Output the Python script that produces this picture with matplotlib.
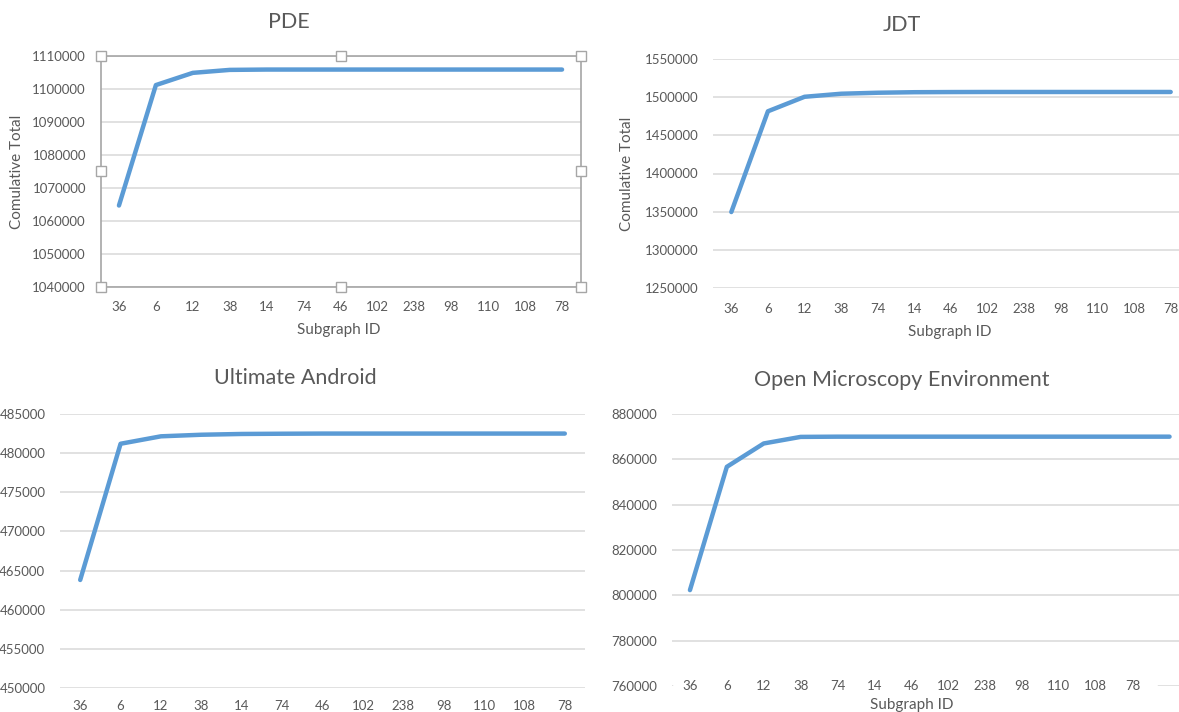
import matplotlib
matplotlib.use("Agg")
import matplotlib.pyplot as plt
import numpy as np

plt.rcParams['font.family'] = ['Lato', 'DejaVu Sans']

# data
pde_ids = ['36', '6', '12', '38', '14', '74', '46', '102', '238', '98', '110', '108', '78']
pde_vals = [1064600, 1101100, 1104800, 1105700, 1105800, 1105800, 1105800,
            1105800, 1105800, 1105800, 1105800, 1105800, 1105800]

jdt_ids = ['36', '6', '12', '38', '74', '14', '46', '102', '238', '98', '110', '108', '78']
jdt_vals = [1349500, 1481500, 1500500, 1504500, 1505800, 1506500, 1506700,
            1506800, 1506800, 1506800, 1506800, 1506800, 1506800]

ua_ids = ['36', '6', '12', '38', '14', '74', '46', '102', '238', '98', '110', '108', '78']
ua_vals = [463800, 481200, 482150, 482350, 482450, 482480, 482500,
           482500, 482500, 482500, 482500, 482500, 482500]

ome_ids = ['36', '6', '12', '38', '74', '14', '46', '102', '238', '98', '110', '108', '78', '']
ome_vals = [802300, 856700, 867000, 869900, 870000, 870000, 870000,
            870000, 870000, 870000, 870000, 870000, 870000, 870000]

W, H = 1179, 712
LINE = '#5b9bd5'
TXT = '#595959'
GRID = '#d9d9d9'


def make_ax(fig, left, right, top, bottom):
    # pixel box -> figure fraction
    return fig.add_axes([left / W, (H - bottom) / H, (right - left) / W, (bottom - top) / H])


def panel(ax, ids, vals, ylim, ystep, title, title_xy, ylabel_xy=None, xlabel_xy=None,
          labels_on_axis=False, xpad=9):
    x = np.arange(len(ids))
    ax.plot(x, vals, color=LINE, lw=3.2, solid_capstyle='round', zorder=3)
    ax.set_xlim(-0.5, len(ids) - 0.5)
    ax.set_ylim(*ylim)
    yt = np.arange(ylim[0], ylim[1] + 1, ystep)
    ax.set_yticks(yt, [str(int(v)) for v in yt])
    ax.yaxis.grid(True, color=GRID, lw=1.1)
    ax.set_axisbelow(True)
    for s in ax.spines.values():
        s.set_visible(False)
    ax.tick_params(axis='y', length=0, pad=10.5, labelsize=9.5, labelcolor=TXT)
    if labels_on_axis:
        # category labels sit on the bottom gridline, which is hidden behind them
        ax.set_xticks([])
        labelled = [i for i, lab in enumerate(ids) if lab]
        ax.plot([labelled[0] - 0.38, labelled[-1] + 0.6], [ylim[0], ylim[0]],
                color='white', lw=4, zorder=2, clip_on=False)
        for i in labelled:
            ax.text(i, ylim[0], ids[i], ha='center', va='center', fontsize=9.5, color=TXT,
                    clip_on=False, zorder=5)
    else:
        ax.set_xticks(x, ids)
        ax.tick_params(axis='x', length=0, pad=xpad, labelsize=9.5, labelcolor=TXT)
    ax.text(title_xy[0], title_xy[1], title, transform=ax.transAxes, ha='center',
            va='center', fontsize=15.5, color=TXT)
    if ylabel_xy is not None:
        ax.text(ylabel_xy[0], ylabel_xy[1], 'Comulative Total', transform=ax.transAxes,
                rotation=90, ha='center', va='center', fontsize=11, color=TXT)
    if xlabel_xy is not None:
        ax.text(xlabel_xy[0], xlabel_xy[1], 'Subgraph ID', transform=ax.transAxes,
                ha='center', va='center', fontsize=11, color=TXT, clip_on=False)


fig = plt.figure(figsize=(W / 100, H / 100), dpi=100)

# PDE (selected chart in Excel: frame and handles)
ax1 = make_ax(fig, 100.5, 580.5, 55.7, 286.7)
panel(ax1, pde_ids, pde_vals, (1040000, 1110000), 10000, 'PDE', (0.393, 1.146),
      (-0.174, 0.497), (0.497, -0.187), xpad=10.5)
for s in ax1.spines.values():
    s.set_visible(True)
    s.set_color('#a6a6a6')
    s.set_linewidth(1.2)
hx = [0, 0.5, 1, 0, 1, 0, 0.5, 1]
hy = [1, 1, 1, 0.5, 0.5, 0, 0, 0]
ax1.plot(hx, hy, ls='none', marker='s', ms=6.5, mfc='white', mec='#a6a6a6', mew=1,
         transform=ax1.transAxes, clip_on=False, zorder=6)

# JDT
ax2 = make_ax(fig, 713, 1189, 59, 288)
panel(ax2, jdt_ids, jdt_vals, (1250000, 1550000), 50000, 'JDT', (0.397, 1.148),
      (-0.181, 0.5), (0.498, -0.192), xpad=10.5)

# Ultimate Android
ax3 = make_ax(fig, 60, 585, 414, 688)
panel(ax3, ua_ids, ua_vals, (450000, 485000), 5000, 'Ultimate Android', (0.448, 1.131))

# Open Microscopy Environment
ax4 = make_ax(fig, 671.5, 1188, 414, 686)
panel(ax4, ome_ids, ome_vals, (760000, 880000), 20000, 'Open Microscopy Environment',
      (0.446, 1.125), None, (0.466, -0.07), labels_on_axis=True)

fig.savefig('out.png', dpi=100, facecolor='white')
